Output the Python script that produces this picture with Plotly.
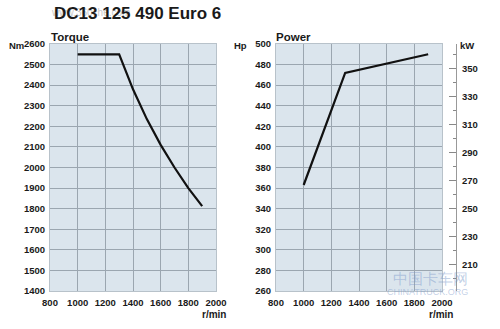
import plotly.graph_objects as go

rpm_torque = [1000, 1300, 1400, 1500, 1600, 1700, 1800, 1900]
torque_nm = [2550, 2550, 2380, 2235, 2110, 2000, 1900, 1812]

rpm_power = [1000, 1300, 1900]
power_hp = [363, 472, 490]

x_ticks = [800, 1000, 1200, 1400, 1600, 1800, 2000]
torque_ticks = list(range(1400, 2601, 100))
hp_ticks = list(range(260, 501, 20))
kw_ticks = list(range(210, 351, 20))
HP_PER_KW = 1.36

bg = "#dbe5ed"
grid = "#9ba6b0"
txt = "#1a1a1a"
FAM = "Liberation Sans, Arial"
tickf = dict(family=FAM, size=9.5, color=txt, weight="bold")

fig = go.Figure()
fig.add_trace(go.Scatter(x=rpm_torque, y=torque_nm, mode="lines",
                         line=dict(color="#111111", width=2.2),
                         xaxis="x", yaxis="y", showlegend=False))
fig.add_trace(go.Scatter(x=rpm_power, y=power_hp, mode="lines",
                         line=dict(color="#111111", width=2.2),
                         xaxis="x2", yaxis="y2", showlegend=False))
fig.add_trace(go.Scatter(x=[None], y=[None], xaxis="x2", yaxis="y3", showlegend=False))

ydom = [(329 - 291) / 329, (329 - 44) / 329]
xax = dict(range=[800, 2000], tickvals=x_ticks, showgrid=True, gridcolor=grid, gridwidth=1,
           zeroline=False, showline=True, linecolor="#b8c2ca", mirror=True, ticks="",
           tickfont=tickf, ticklabelstandoff=3, automargin=False)
yax = dict(showgrid=True, gridcolor=grid, gridwidth=1, zeroline=False, showline=True,
           linecolor="#b8c2ca", mirror=True, ticks="", tickfont=tickf, ticklabelstandoff=2,
           automargin=False)

fig.update_layout(
    width=500, height=329, margin=dict(l=0, r=0, t=0, b=0, autoexpand=False),
    paper_bgcolor="white", plot_bgcolor=bg,
    font=dict(family=FAM, color=txt),
    xaxis=dict(xax, domain=[50 / 500, 216 / 500], anchor="y"),
    yaxis=dict(yax, domain=ydom, range=[1400, 2600], tickvals=torque_ticks, anchor="x"),
    xaxis2=dict(xax, domain=[276 / 500, 442 / 500], anchor="y2"),
    yaxis2=dict(yax, domain=ydom, range=[260, 500], tickvals=hp_ticks, anchor="x2"),
    yaxis3=dict(overlaying="y2", side="right", anchor="free", position=456 / 500,
                range=[260 / HP_PER_KW, 500 / HP_PER_KW], tickvals=kw_ticks,
                showgrid=False, zeroline=False, showline=True, linecolor="#999999",
                ticks="inside", ticklen=7, tickcolor="#888888", ticklabelstandoff=3,
                automargin=False,
                minor=dict(ticks="inside", ticklen=3, dtick=10, tick0=200, tickcolor="#888888"),
                tickfont=tickf),
)

def ann(text, x, y, size=11, xanchor="center", color=txt, bold=True):
    t = f"<b>{text}</b>" if bold else text
    fig.add_annotation(text=t, x=x / 500, y=1 - y / 329, xref="paper", yref="paper",
                       xanchor=xanchor, yanchor="middle", showarrow=False, borderpad=0,
                       font=dict(family=FAM, size=size, color=color))

ann("www.360che.com", 50, 13, size=10, xanchor="left", color="rgba(150,150,150,0.55)", bold=False)
ann("DC13 125 490 Euro 6", 137, 14, size=17)
ann("Torque", 50, 37, size=11.5, xanchor="left")
ann("Power", 275, 37, size=11.5, xanchor="left")
ann("Nm", 8, 45, size=9.5, xanchor="left")
ann("Hp", 233, 45, size=9.5, xanchor="left")
ann("kW", 459, 45, size=9.5, xanchor="left")
ann("r/min", 214, 314, size=10)
ann("r/min", 441, 314, size=10)
ann("中国卡车网", 392, 278, size=15, xanchor="left", color="rgba(120,150,200,0.45)", bold=False)
ann("CHINATRUCK.ORG", 386, 292, size=9, xanchor="left", color="rgba(120,150,200,0.45)", bold=False)

fig.write_html("out.html")
